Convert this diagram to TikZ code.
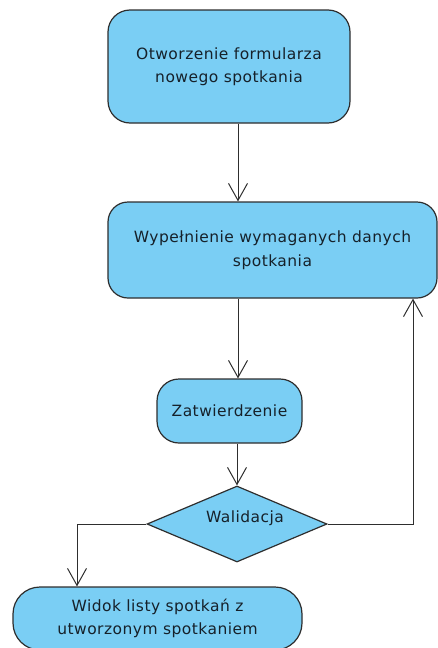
\documentclass[tikz,border=0pt]{standalone}
\usepackage{fontspec}
\setmainfont[LetterSpace=3]{DejaVu Sans}
\usetikzlibrary{arrows.meta,shapes.geometric}
\definecolor{boxfill}{HTML}{7ACEF4}
\definecolor{boxline}{HTML}{2E2E2E}
\definecolor{textcol}{HTML}{16212A}
\tikzset{
  stepbox/.style={draw=boxline, fill=boxfill, line width=1.2pt, rectangle,
    rounded corners=#1, align=center, text=textcol, inner sep=0pt,
    font=\fontsize{15.5}{23.5}\selectfont},
  stepbox/.default=22pt,
  decision/.style={draw=boxline, fill=boxfill, line width=1.2pt, diamond,
    inner sep=0pt},
  lbl/.style={text=textcol, font=\fontsize{15.5}{23.5}\selectfont},
  flow/.style={draw=boxline, line width=1pt,
    -{Straight Barb[length=17pt,width=19pt,line width=1pt]}},
}
\begin{document}
\begin{tikzpicture}[x=1pt,y=-1pt]
\useasboundingbox (0,0) rectangle (438,648);

% activity nodes
\node[stepbox, minimum width=242pt, minimum height=113pt] (open) at (229,66.5)
  {Otworzenie formularza\\nowego spotkania};
\node[stepbox=20pt, minimum width=329pt, minimum height=96pt] (fill) at (272.5,250)
  {Wypełnienie wymaganych danych\\spotkania};
\node[stepbox, minimum width=145pt, minimum height=64pt] (confirm) at (229.5,411)
  {Zatwierdzenie};
\node[decision, minimum width=180pt, minimum height=76pt] (valid) at (237,524) {};
\node[lbl] (validtxt) at (245,518) {Walidacja};
\node[stepbox=27pt, minimum width=289pt, minimum height=63pt] (list) at (157.5,618.5)
  {Widok listy spotkań z\\utworzonym spotkaniem};

% connectors
\coordinate (backup) at (413,524);
\coordinate (ok) at (77,524);
\draw[flow] ([xshift=9pt]open.south) -- ([xshift=9pt]open.south |- fill.north);
\draw[flow] ([xshift=8.5pt]confirm.north |- fill.south) -- ([xshift=8.5pt]confirm.north);
\draw[flow] ([xshift=7.5pt]confirm.south) -- (valid.north);
\draw[flow] (valid.east) -- (backup) -- (backup |- fill.south);
\draw[flow] (valid.west) -- (ok) -- (ok |- list.north);
\end{tikzpicture}
\end{document}
